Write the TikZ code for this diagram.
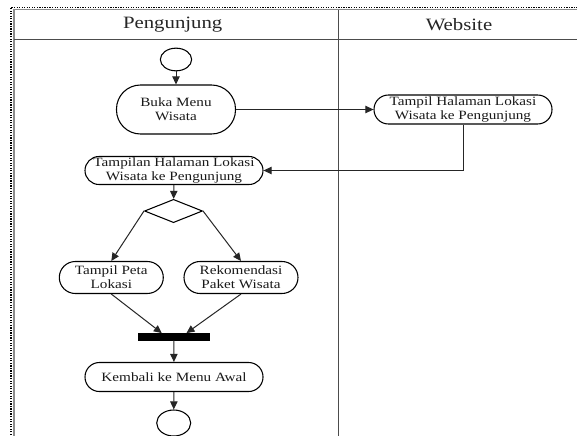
\documentclass[tikz,border=0pt]{standalone}
\usepackage{fontspec}
\setmainfont{Liberation Serif}[FakeStretch=1.2]
\usetikzlibrary{arrows.meta,shapes.geometric}
\tikzset{
  act/.style={draw=black, line width=0.8pt, rounded corners=#1, align=center, inner sep=0pt,
    text=black!90, font=\fontsize{9.5}{10.7}\selectfont},
  flow/.style={draw=black!85, line width=0.75pt, -{Triangle[length=6pt,width=5.5pt]}},
  lane/.style={draw=black!70, line width=1pt},
  hdr/.style={font=\fontsize{13}{15}\selectfont, text=black!85, inner sep=0pt}
}
\begin{document}
\begin{tikzpicture}[x=0.75pt,y=-0.75pt]
\useasboundingbox (0,0) rectangle (577,435);
\clip (0,0) rectangle (577,435);
\fill[white] (0,0) rectangle (577,435);
% outer frame
\draw[black, densely dotted, line width=0.9pt] (11,440) -- (11,7.3) -- (580,7.3);
\draw[black!45, line width=1.2pt] (14,440) -- (14,9.6) -- (580,9.6);
% swimlanes
\draw[lane] (14,39.3) -- (580,39.3);
\draw[lane] (338.6,9.6) -- (338.6,440);
\node[hdr] (hdrA) at (172.7,25) {Pengunjung};
\node[hdr] (hdrB) at (459,24.5) {Website};
% nodes
\node[ellipse, draw=black, line width=0.8pt, minimum width=23.5pt, minimum height=17pt, inner sep=0pt] (start) at (176,59.5) {};
\node[act=18pt, minimum width=89.25pt, minimum height=36.75pt] (buka) at (176,109.5) {Buka Menu\\Wisata};
\node[act=10.8pt, minimum width=133.5pt, minimum height=21.75pt] (tampilR) at (463,109.5) {Tampil Halaman Lokasi\\Wisata ke Pengunjung};
\node[act=10.5pt, minimum width=133.5pt, minimum height=21pt] (tampilL) at (174,170.5) {Tampilan Halaman Lokasi\\Wisata ke Pengunjung};
\node[diamond, draw=black, line width=0.8pt, minimum width=43.5pt, minimum height=17.5pt, inner sep=0pt] (dec) at (173.5,211) {};
\node[act=12pt, minimum width=78pt, minimum height=24pt] (peta) at (111.3,277.5) {Tampil Peta\\Lokasi};
\node[act=12pt, minimum width=85.5pt, minimum height=24pt] (rekom) at (241,277.5) {Rekomendasi\\Paket Wisata};
\node[fill=black, draw=black, minimum width=53.25pt, minimum height=5pt, inner sep=0pt] (bar) at (173.8,336.7) {};
\node[act=10.8pt, minimum width=133.5pt, minimum height=21.75pt] (kembali) at (174,377) {Kembali ke Menu Awal};
\node[ellipse, draw=black, line width=0.8pt, minimum width=25.5pt, minimum height=19.5pt, inner sep=0pt] (end) at (173.7,423) {};
% connectors
\draw[flow] (start) -- (buka);
\draw[flow] (buka) -- (tampilR);
\draw[flow] (tampilR.south) |- (tampilL.east);
\draw[flow] (tampilL) -- (dec);
\draw[flow] (dec.west) -- (peta.north);
\draw[flow] (dec.east) -- (rekom.north);
\draw[flow] (peta.south) -- ([xshift=-9pt]bar.north);
\draw[flow] (rekom.south) -- ([xshift=9.5pt]bar.north);
\draw[flow] (bar) -- (kembali);
\draw[flow] (kembali) -- (end);
\end{tikzpicture}
\end{document}
